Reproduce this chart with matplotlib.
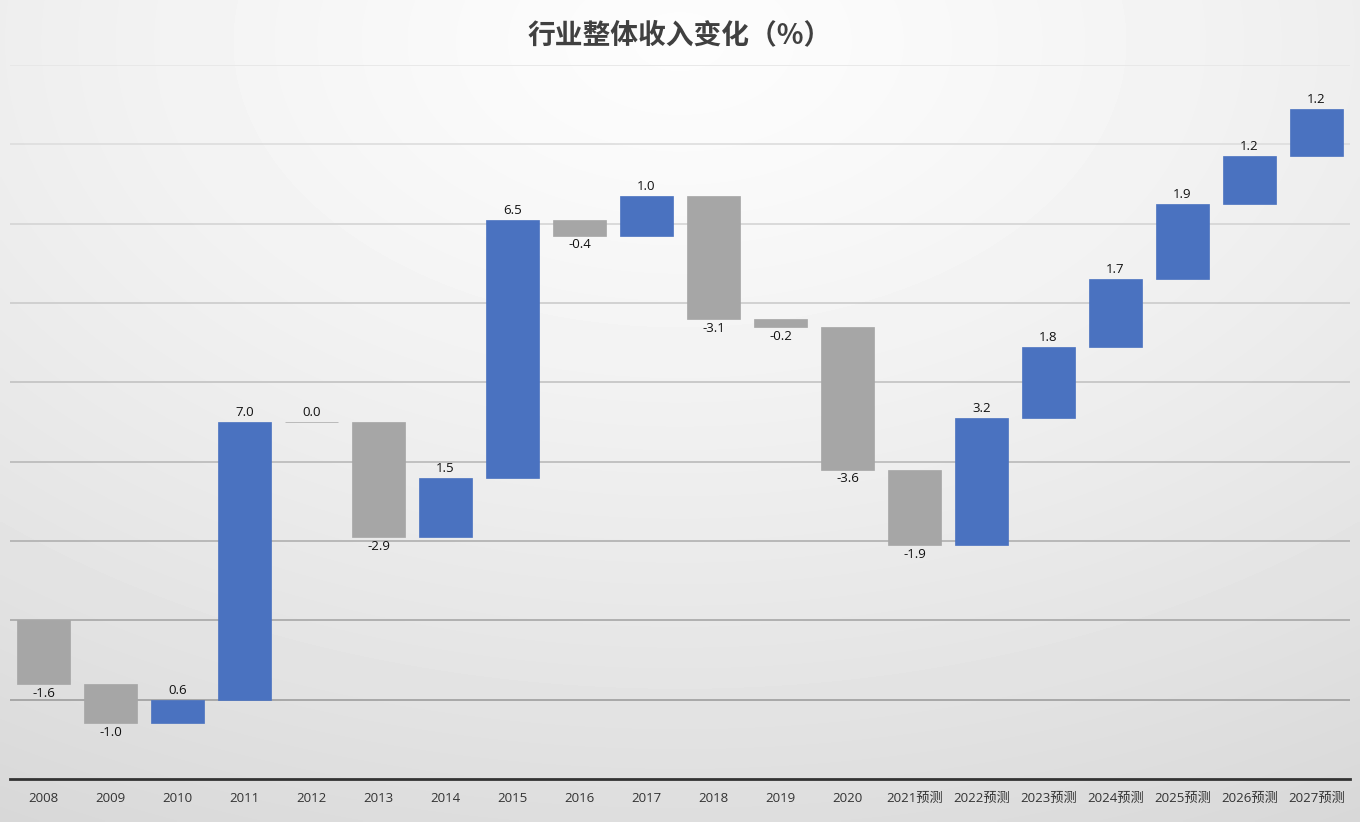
import numpy as np
import matplotlib
matplotlib.use('Agg')
import matplotlib.pyplot as plt

plt.rcParams['font.family'] = ['Open Sans', 'Noto Sans CJK SC', 'DejaVu Sans']

# данные
categories = ['2008', '2009', '2010', '2011', '2012', '2013', '2014', '2015', '2016', '2017',
              '2018', '2019', '2020', '2021预测', '2022预测', '2023预测', '2024预测',
              '2025预测', '2026预测', '2027预测']
changes = [-1.6, -1.0, 0.6, 7.0, 0.0, -2.9, 1.5, 6.5, -0.4, 1.0,
           -3.1, -0.2, -3.6, -1.9, 3.2, 1.8, 1.7, 1.9, 1.2, 1.2]
title = '行业整体收入变化（%）'

BLUE = '#4a72c0'
GREY = '#a6a6a6'

fig = plt.figure(figsize=(13.6, 8.22), dpi=100)

# фон: мягкий радиальный градиент
bg = fig.add_axes([0, 0, 1, 1], zorder=-10)
gx, gy = np.meshgrid(np.linspace(0, 1, 400), np.linspace(0, 1, 250))
r = np.sqrt(((gx - 0.5) * 0.9) ** 2 + ((gy - 0.95) * 0.85) ** 2)
r = np.clip(r / 0.95, 0, 1)
bg.imshow(0.99 - 0.15 * r ** 1.3, cmap='gray', vmin=0, vmax=1, origin='lower',
          extent=[0, 1, 0, 1], aspect='auto', interpolation='bilinear')
bg.axis('off')

ax = fig.add_axes([10 / 1360, 1 - 779 / 822, 1340 / 1360, (779 - 65) / 822])
ax.patch.set_alpha(0)

x = np.arange(len(categories))
vals = np.array(changes)
ends = np.cumsum(vals)
starts = ends - vals
bottoms = np.minimum(starts, ends)
heights = np.abs(vals)
colors = [BLUE if v > 0 else GREY for v in vals]

# сетка
for g in range(-2, 15, 2):
    c = 0.62 + 0.28 * (g + 2) / 16
    ax.axhline(g, color=(c, c, c), linewidth=1.2, zorder=0)

ax.bar(x, heights, bottom=bottoms, width=0.78, color=colors,
       edgecolor=colors, linewidth=0.5, zorder=2)

for xi, v, s, e in zip(x, vals, starts, ends):
    if v >= 0:
        ax.text(xi, max(s, e) + 0.07, f'{v:.1f}', ha='center', va='bottom',
                fontsize=9.5, color='#111111')
    else:
        ax.text(xi, min(s, e) - 0.07, f'{v:.1f}', ha='center', va='top',
                fontsize=9.5, color='#111111')

ax.set_xlim(-0.5, len(categories) - 0.5)
ax.set_ylim(-4, 14)
ax.set_yticks([])
ax.set_xticks(x)
ax.set_xticklabels(categories, fontsize=9.5, color='#333333')
ax.tick_params(axis='x', length=0, pad=9)
for sp in ['top', 'right', 'left']:
    ax.spines[sp].set_visible(False)
ax.spines['bottom'].set_color('#333333')
ax.spines['bottom'].set_linewidth(2)

fig.text(0.5, 1 - 35 / 822, title, ha='center', va='center',
         fontsize=20, fontweight='bold', color='#404040',
         family=['Noto Sans CJK SC', 'DejaVu Sans'])

fig.savefig('out.png', dpi=100)
